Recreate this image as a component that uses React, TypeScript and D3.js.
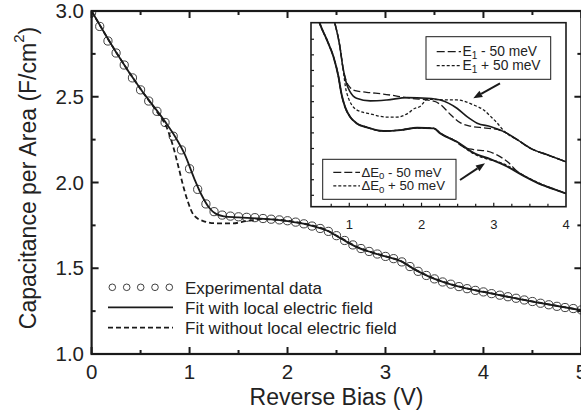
import React from 'react';
import * as d3 from 'd3';

const W = 581;
const H = 414;

// ---------- main panel data ----------
const expX = [
  0, 0.083, 0.167, 0.25, 0.333, 0.417, 0.5, 0.583, 0.667, 0.75, 0.833, 0.917,
  1.0, 1.083, 1.167, 1.25, 1.333, 1.417, 1.5, 1.583, 1.667, 1.75, 1.833, 1.917,
  2.0, 2.083, 2.167, 2.25, 2.333, 2.417, 2.5, 2.583, 2.667, 2.75, 2.833, 2.917,
  3.0, 3.083, 3.167, 3.25, 3.333, 3.417, 3.5, 3.583, 3.667, 3.75, 3.833, 3.917,
  4.0, 4.083, 4.167, 4.25, 4.333, 4.417, 4.5, 4.583, 4.667, 4.75, 4.833, 4.917, 5.0,
];
const expY = [
  2.99, 2.91, 2.825, 2.755, 2.685, 2.61, 2.54, 2.475, 2.415, 2.35, 2.27, 2.19,
  2.08, 1.96, 1.875, 1.83, 1.81, 1.804, 1.8, 1.797, 1.795, 1.79, 1.786, 1.782,
  1.777, 1.769, 1.759, 1.746, 1.732, 1.715, 1.69, 1.662, 1.636, 1.615, 1.598, 1.583,
  1.569, 1.556, 1.537, 1.51, 1.482, 1.458, 1.438, 1.42, 1.407, 1.393, 1.381, 1.371,
  1.362, 1.352, 1.343, 1.334, 1.325, 1.315, 1.306, 1.296, 1.287, 1.278, 1.271, 1.265, 1.257,
];

const fitX = [0, 0.25, 0.5, 0.75, 0.85, 0.95, 1.05, 1.12, 1.2, 1.27, 1.35, 1.5, 1.7, 2.0, 2.2, 2.4, 2.55, 2.7, 2.85, 3.0, 3.15, 3.3, 3.45, 3.6, 3.8, 4.0, 4.5, 5.0];
const fitY = [3.0, 2.76, 2.545, 2.355, 2.27, 2.165, 2.02, 1.93, 1.853, 1.817, 1.803, 1.797, 1.79, 1.775, 1.755, 1.72, 1.672, 1.625, 1.594, 1.569, 1.543, 1.492, 1.45, 1.418, 1.386, 1.362, 1.306, 1.255];

const noFieldX = [0, 0.25, 0.5, 0.7, 0.76, 0.83, 0.885, 0.935, 0.985, 1.04, 1.14, 1.28, 1.44, 1.58, 1.75, 2.0, 2.2, 2.4, 2.55, 2.7, 2.85, 3.0, 3.15, 3.3, 3.45, 3.6, 3.8, 4.0, 4.5, 5.0];
const noFieldY = [3.0, 2.76, 2.545, 2.385, 2.33, 2.215, 2.095, 1.98, 1.885, 1.812, 1.775, 1.762, 1.762, 1.775, 1.786, 1.777, 1.757, 1.722, 1.674, 1.627, 1.595, 1.57, 1.544, 1.493, 1.451, 1.419, 1.387, 1.363, 1.307, 1.256];

const xTicksMajor = [0, 1, 2, 3, 4, 5];
const xTicksMinor = [0.5, 1.5, 2.5, 3.5, 4.5];
const yTicksMajor = [1.0, 1.5, 2.0, 2.5, 3.0];
const yTicksMinor = [1.25, 1.75, 2.25, 2.75];

const legendLabels = ['Experimental data', 'Fit with local electric field', 'Fit without local electric field'];

// ---------- inset data ----------
const e1X = [0.72, 0.8, 0.87, 0.91, 0.96, 1.01, 1.1, 1.29, 1.52, 1.8, 2.08, 2.26, 2.49, 2.63, 2.77, 2.96, 3.14, 3.33, 3.51, 3.75, 4.0];
const e1Y = [2.42, 2.303, 2.153, 2.024, 1.918, 1.864, 1.822, 1.805, 1.811, 1.826, 1.822, 1.811, 1.758, 1.704, 1.662, 1.64, 1.608, 1.555, 1.501, 1.458, 1.415];

const e1MinusX = [0.72, 0.8, 0.87, 0.91, 0.96, 1.01, 1.08, 1.24, 1.47, 1.84, 2.17, 2.26, 2.4, 2.54, 2.68, 2.86, 3.05, 3.14, 3.33, 3.51, 3.75, 4.0];
const e1MinusY = [2.42, 2.303, 2.153, 2.024, 1.93, 1.892, 1.871, 1.86, 1.849, 1.822, 1.803, 1.782, 1.718, 1.664, 1.643, 1.632, 1.622, 1.606, 1.555, 1.501, 1.458, 1.415];

const e1PlusX = [0.72, 0.8, 0.87, 0.91, 0.96, 1.1, 1.29, 1.52, 1.66, 1.8, 1.91, 1.98, 2.08, 2.4, 2.49, 2.72, 2.86, 2.96, 3.05, 3.12, 3.2, 3.33, 3.51, 3.75, 4.0];
const e1PlusY = [2.42, 2.303, 2.153, 2.024, 1.864, 1.748, 1.722, 1.701, 1.701, 1.722, 1.758, 1.769, 1.815, 1.811, 1.811, 1.779, 1.747, 1.704, 1.662, 1.623, 1.59, 1.555, 1.501, 1.458, 1.415];

const d0X = [0.5, 0.59, 0.69, 0.78, 0.85, 0.89, 0.94, 1.01, 1.1, 1.24, 1.47, 1.71, 1.94, 2.17, 2.26, 2.49, 2.72, 2.96, 3.19, 3.42, 3.65, 3.84, 4.0];
const d0Y = [2.45, 2.303, 2.196, 2.089, 1.961, 1.854, 1.768, 1.704, 1.662, 1.636, 1.612, 1.618, 1.633, 1.629, 1.597, 1.543, 1.472, 1.43, 1.383, 1.323, 1.27, 1.238, 1.212];

const d0MinusX = [0.5, 0.59, 0.69, 0.78, 0.85, 0.89, 0.94, 1.01, 1.1, 1.24, 1.47, 1.71, 1.94, 2.17, 2.26, 2.45, 2.58, 2.72, 2.91, 3.05, 3.19, 3.33, 3.47, 3.65, 3.84, 4.0];
const d0MinusY = [2.45, 2.303, 2.196, 2.089, 1.961, 1.854, 1.768, 1.704, 1.662, 1.636, 1.612, 1.618, 1.633, 1.629, 1.597, 1.552, 1.51, 1.493, 1.483, 1.457, 1.415, 1.351, 1.312, 1.27, 1.238, 1.212];

const d0PlusX = [0.5, 0.59, 0.69, 0.78, 0.85, 0.89, 0.94, 1.01, 1.1, 1.24, 1.47, 1.71, 1.94, 2.17, 2.26, 2.49, 2.6, 2.72, 2.91, 3.05, 3.19, 3.42, 3.65, 3.84, 4.0];
const d0PlusY = [2.45, 2.303, 2.196, 2.089, 1.961, 1.854, 1.768, 1.704, 1.662, 1.636, 1.612, 1.618, 1.633, 1.629, 1.597, 1.543, 1.503, 1.467, 1.432, 1.416, 1.39, 1.326, 1.274, 1.238, 1.212];

const insetXTicks = [0.75, 1, 1.25, 1.5, 1.75, 2, 2.25, 2.5, 2.75, 3, 3.25, 3.5, 3.75];
const insetXLabels = [1, 2, 3, 4];
const insetYTicks = [1.2, 1.3, 1.4, 1.5, 1.6, 1.7, 1.8, 1.9, 2.0, 2.1, 2.2];

const FONT = 'Liberation Sans, Arial, Helvetica, sans-serif';
const INK = '#1a1a1a';

type Pt = [number, number];
const zip = (a: number[], b: number[]): Pt[] => a.map((v, i) => [v, b[i]]);

export default function App() {
  // main scales
  const x = d3.scaleLinear().domain([0, 5]).range([91.6, 581.4]);
  const y = d3.scaleLinear().domain([1, 3]).range([354, 11]);
  const L = x(0), R = x(5), T = y(3), B = y(1);

  const line = d3
    .line<Pt>()
    .x((d) => x(d[0]))
    .y((d) => y(d[1]))
    .curve(d3.curveMonotoneX);

  // inset scales
  const ix = d3.scaleLinear().domain([0.47, 4.0]).range([311, 566]);
  const iy = d3.scaleLinear().domain([1.127, 2.306]).range([206.7, 22.7]);
  const iL = 311, iR = 566, iT = 22.7, iB = 206.7;
  const iline = d3
    .line<Pt>()
    .x((d) => ix(d[0]))
    .y((d) => iy(d[1]))
    .curve(d3.curveMonotoneX);

  const arrow = (x1: number, y1: number, x2: number, y2: number) => {
    const ang = Math.atan2(y2 - y1, x2 - x1);
    const len = 9, half = 3.5;
    const bx = x2 - len * Math.cos(ang), by = y2 - len * Math.sin(ang);
    const px = -Math.sin(ang) * half, py = Math.cos(ang) * half;
    return (
      <g>
        <line x1={x1} y1={y1} x2={bx} y2={by} stroke={INK} strokeWidth={2} />
        <path d={`M${x2},${y2}L${bx + px},${by + py}L${bx - px},${by - py}Z`} fill={INK} />
      </g>
    );
  };

  const legFont = 13.8;
  const legFont2 = 13.2;
  const subFont = 10;

  return (
    <svg width={W} height={H} style={{ position: 'absolute', left: 0, top: 0, background: '#fff' }} fontFamily={FONT}>
      <rect x={0} y={0} width={W} height={H} fill="#fff" />
      <defs>
        <clipPath id="plotClip">
          <rect x={L} y={T} width={R - L} height={B - T} />
        </clipPath>
        <clipPath id="insetClip">
          <rect x={iL} y={iT} width={iR - iL} height={iB - iT} />
        </clipPath>
      </defs>

      {/* main curves */}
      <g clipPath="url(#plotClip)">
        {expX.map((v, i) => (
          <circle key={i} cx={x(v)} cy={y(expY[i])} r={4.1} fill="none" stroke="#2a2a2a" strokeWidth={0.9} />
        ))}
        <path d={line(zip(noFieldX, noFieldY)) || ''} fill="none" stroke={INK} strokeWidth={1.8} strokeDasharray="5,3" />
        <path d={line(zip(fitX, fitY)) || ''} fill="none" stroke={INK} strokeWidth={1.8} />
      </g>

      {/* main frame and ticks */}
      <rect x={L} y={T} width={R - L} height={B - T} fill="none" stroke={INK} strokeWidth={2.2} />
      {xTicksMajor.map((v) => (
        <g key={'xM' + v}>
          <line x1={x(v)} x2={x(v)} y1={B} y2={B - 7} stroke={INK} strokeWidth={2} />
          <line x1={x(v)} x2={x(v)} y1={T} y2={T + 7} stroke={INK} strokeWidth={2} />
          <text x={x(v)} y={379} fontSize={20.5} textAnchor="middle" fill="#222">{v}</text>
        </g>
      ))}
      {xTicksMinor.map((v) => (
        <g key={'xm' + v}>
          <line x1={x(v)} x2={x(v)} y1={B} y2={B - 4} stroke={INK} strokeWidth={2} />
          <line x1={x(v)} x2={x(v)} y1={T} y2={T + 4} stroke={INK} strokeWidth={2} />
        </g>
      ))}
      {yTicksMajor.map((v) => (
        <g key={'yM' + v}>
          <line x1={L} x2={L + 7} y1={y(v)} y2={y(v)} stroke={INK} strokeWidth={2} />
          <line x1={R} x2={R - 7} y1={y(v)} y2={y(v)} stroke={INK} strokeWidth={2} />
          <text x={84} y={y(v) + 7.2} fontSize={20.5} textAnchor="end" fill="#222">{v.toFixed(1)}</text>
        </g>
      ))}
      {yTicksMinor.map((v) => (
        <g key={'ym' + v}>
          <line x1={L} x2={L + 4} y1={y(v)} y2={y(v)} stroke={INK} strokeWidth={2} />
          <line x1={R} x2={R - 4} y1={y(v)} y2={y(v)} stroke={INK} strokeWidth={2} />
        </g>
      ))}

      {/* axis titles */}
      <text x={(L + R) / 2} y={405} fontSize={23} textAnchor="middle" fill="#222">Reverse Bias (V)</text>
      <text transform={`translate(36,178) rotate(-90)`} fontSize={23} textAnchor="middle" fill="#222">
        Capacitance per Area (F/cm<tspan fontSize={15} dy={-12}>2</tspan><tspan dy={12}>)</tspan>
      </text>

      {/* main legend */}
      <g>
        {[112.3, 126.7, 140.7, 155, 169.3].map((cx, i) => (
          <circle key={i} cx={cx} cy={287.3} r={3.3} fill="none" stroke="#2a2a2a" strokeWidth={0.9} />
        ))}
        <line x1={108} x2={173} y1={307.3} y2={307.3} stroke={INK} strokeWidth={1.8} />
        <line x1={108} x2={173} y1={327.7} y2={327.7} stroke={INK} strokeWidth={1.8} strokeDasharray="5,3" />
        {legendLabels.map((t, i) => (
          <text key={t} x={185} y={293.5 + i * 20.3} fontSize={17} fill="#222">{t}</text>
        ))}
      </g>

      {/* inset */}
      <rect x={iL} y={iT} width={iR - iL} height={iB - iT} fill="#fff" stroke={INK} strokeWidth={1.6} />
      <g clipPath="url(#insetClip)">
        <path d={iline(zip(e1MinusX, e1MinusY)) || ''} fill="none" stroke={INK} strokeWidth={1.3} strokeDasharray="7,3" />
        <path d={iline(zip(e1PlusX, e1PlusY)) || ''} fill="none" stroke={INK} strokeWidth={1.3} strokeDasharray="3,2" />
        <path d={iline(zip(e1X, e1Y)) || ''} fill="none" stroke={INK} strokeWidth={1.6} />
        <path d={iline(zip(d0MinusX, d0MinusY)) || ''} fill="none" stroke={INK} strokeWidth={1.3} strokeDasharray="7,3" />
        <path d={iline(zip(d0PlusX, d0PlusY)) || ''} fill="none" stroke={INK} strokeWidth={1.3} strokeDasharray="3,2" />
        <path d={iline(zip(d0X, d0Y)) || ''} fill="none" stroke={INK} strokeWidth={1.9} />
      </g>
      {insetXTicks.map((v) => (
        <line key={'ixt' + v} x1={ix(v)} x2={ix(v)} y1={iB} y2={iB - (Number.isInteger(v) ? 4 : 3)} stroke={INK} strokeWidth={1.2} />
      ))}
      {insetXLabels.map((v) => (
        <text key={'ixl' + v} x={ix(v)} y={228.5} fontSize={13} textAnchor="middle" fill="#222">{v}</text>
      ))}
      {insetYTicks.map((v) => (
        <line key={'iyt' + v} x1={iL} x2={iL + 3} y1={iy(v)} y2={iy(v)} stroke={INK} strokeWidth={1.2} />
      ))}

      {/* inset legend: E1 */}
      <rect x={426} y={36.7} width={124.7} height={42.6} fill="#fff" stroke={INK} strokeWidth={1} />
      <line x1={436.7} x2={461} y1={51.7} y2={51.7} stroke={INK} strokeWidth={1.3} strokeDasharray="8,3" />
      <line x1={436.7} x2={461} y1={65.7} y2={65.7} stroke={INK} strokeWidth={1.3} strokeDasharray="3,2" />
      <text x={462.5} y={56.3} fontSize={legFont} fill="#222">E<tspan fontSize={subFont} dy={3}>1</tspan><tspan dy={-3}> - 50 meV</tspan></text>
      <text x={462.5} y={70.3} fontSize={legFont} fill="#222">E<tspan fontSize={subFont} dy={3}>1</tspan><tspan dy={-3}> + 50 meV</tspan></text>

      {/* inset legend: dE0 */}
      <rect x={322.7} y={159.3} width={133.3} height={40} fill="#fff" stroke={INK} strokeWidth={1} />
      <line x1={333.3} x2={360} y1={172.3} y2={172.3} stroke={INK} strokeWidth={1.3} strokeDasharray="8,3" />
      <line x1={333.3} x2={360} y1={185.8} y2={185.8} stroke={INK} strokeWidth={1.3} strokeDasharray="3,2" />
      <text x={361.5} y={176.8} fontSize={legFont2} fill="#222">ΔE<tspan fontSize={9.6} dy={2.5}>0</tspan><tspan dy={-2.5}> - 50 meV</tspan></text>
      <text x={361.5} y={190.3} fontSize={legFont2} fill="#222">ΔE<tspan fontSize={9.6} dy={2.5}>0</tspan><tspan dy={-2.5}> + 50 meV</tspan></text>

      {/* arrows */}
      {arrow(500, 83.3, 473.3, 98.3)}
      {arrow(460, 180, 485, 163.3)}
    </svg>
  );
}
